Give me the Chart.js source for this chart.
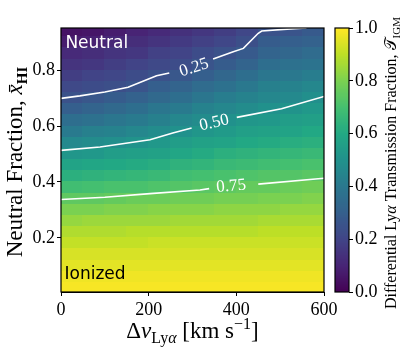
<!DOCTYPE html>
<html>
<head>
<meta charset="utf-8">
<script src="https://cdn.jsdelivr.net/npm/chart.js@4.4.0/dist/chart.umd.min.js"></script>
<style>
  html, body { margin: 0; padding: 0; background: #fff; }
  #wrap { position: relative; width: 407px; height: 355px; }
  #wrap canvas { position: absolute; left: 0; top: 0; }
</style>
</head>
<body>
<div id="wrap">
  <canvas id="heat" width="407" height="355"></canvas>
  <canvas id="cbar" width="407" height="355"></canvas>
</div>
<script>
// cell centres along the velocity offset axis [km/s]
const dvCenters = [25, 75, 125, 175, 225, 275, 325, 375, 425, 475, 525, 575];
// cell centres along the neutral fraction axis, top row first
const xhiCenters = [0.94, 0.90, 0.86, 0.82, 0.78, 0.74, 0.70, 0.66, 0.62, 0.58, 0.54, 0.50,
                    0.46, 0.42, 0.38, 0.34, 0.30, 0.26, 0.22, 0.18, 0.14, 0.10, 0.06, 0.02];
// transmission fraction, one row per xhiCenters entry
const transmission = [
  [0.05, 0.06, 0.08, 0.10, 0.12, 0.14, 0.16, 0.18, 0.21, 0.25, 0.26, 0.28],
  [0.08, 0.09, 0.11, 0.13, 0.15, 0.17, 0.19, 0.21, 0.24, 0.29, 0.30, 0.31],
  [0.12, 0.13, 0.15, 0.16, 0.19, 0.20, 0.23, 0.25, 0.28, 0.32, 0.33, 0.35],
  [0.15, 0.16, 0.18, 0.20, 0.22, 0.23, 0.26, 0.29, 0.32, 0.36, 0.37, 0.38],
  [0.18, 0.20, 0.21, 0.23, 0.25, 0.27, 0.30, 0.33, 0.36, 0.39, 0.40, 0.42],
  [0.22, 0.23, 0.24, 0.26, 0.30, 0.32, 0.35, 0.37, 0.40, 0.43, 0.44, 0.46],
  [0.25, 0.27, 0.29, 0.31, 0.34, 0.36, 0.39, 0.42, 0.44, 0.46, 0.47, 0.49],
  [0.30, 0.32, 0.34, 0.36, 0.39, 0.41, 0.44, 0.46, 0.48, 0.50, 0.51, 0.53],
  [0.36, 0.37, 0.39, 0.41, 0.43, 0.46, 0.48, 0.50, 0.52, 0.53, 0.55, 0.56],
  [0.41, 0.43, 0.44, 0.46, 0.48, 0.50, 0.52, 0.54, 0.56, 0.57, 0.58, 0.60],
  [0.47, 0.48, 0.49, 0.51, 0.53, 0.55, 0.57, 0.58, 0.60, 0.61, 0.62, 0.63],
  [0.52, 0.53, 0.55, 0.56, 0.57, 0.59, 0.61, 0.63, 0.64, 0.65, 0.66, 0.67],
  [0.58, 0.59, 0.60, 0.61, 0.62, 0.64, 0.65, 0.67, 0.68, 0.69, 0.70, 0.71],
  [0.63, 0.64, 0.65, 0.66, 0.67, 0.69, 0.70, 0.71, 0.72, 0.73, 0.73, 0.74],
  [0.69, 0.70, 0.71, 0.71, 0.72, 0.73, 0.74, 0.75, 0.76, 0.76, 0.77, 0.78],
  [0.75, 0.75, 0.76, 0.77, 0.77, 0.78, 0.78, 0.79, 0.79, 0.80, 0.80, 0.81],
  [0.80, 0.80, 0.81, 0.81, 0.82, 0.82, 0.82, 0.83, 0.83, 0.83, 0.84, 0.84],
  [0.84, 0.85, 0.85, 0.85, 0.85, 0.86, 0.86, 0.86, 0.86, 0.87, 0.87, 0.87],
  [0.88, 0.88, 0.88, 0.89, 0.89, 0.89, 0.89, 0.89, 0.89, 0.90, 0.90, 0.90],
  [0.91, 0.91, 0.91, 0.91, 0.92, 0.92, 0.92, 0.92, 0.92, 0.92, 0.92, 0.92],
  [0.94, 0.94, 0.94, 0.94, 0.94, 0.94, 0.94, 0.94, 0.94, 0.94, 0.94, 0.94],
  [0.96, 0.96, 0.96, 0.96, 0.96, 0.96, 0.96, 0.96, 0.96, 0.96, 0.96, 0.96],
  [0.98, 0.98, 0.98, 0.98, 0.98, 0.98, 0.98, 0.98, 0.98, 0.98, 0.98, 0.98],
  [0.99, 0.99, 0.99, 0.99, 0.99, 0.99, 0.99, 0.99, 0.99, 0.99, 0.99, 0.99]
];

// contour lines (null = gap left for the label)
const contour25 = [
  {x: 0, y: 0.699}, {x: 43, y: 0.708}, {x: 100, y: 0.722}, {x: 153, y: 0.739},
  {x: 218, y: 0.780}, {x: 247, y: 0.790}, {x: 300, y: null},
  {x: 347, y: 0.840}, {x: 393, y: 0.866}, {x: 416, y: 0.878}, {x: 450, y: 0.932},
  {x: 458, y: 0.940}, {x: 516, y: 0.947}, {x: 560, y: 0.951}
];
const contour50 = [
  {x: 0, y: 0.513}, {x: 89, y: 0.525}, {x: 203, y: 0.551}, {x: 255, y: 0.575},
  {x: 298, y: 0.593}, {x: 350, y: null},
  {x: 401, y: 0.631}, {x: 503, y: 0.662}, {x: 600, y: 0.706}
];
const contour75 = [
  {x: 0, y: 0.337}, {x: 100, y: 0.345}, {x: 203, y: 0.358}, {x: 317, y: 0.371},
  {x: 338, y: 0.376}, {x: 390, y: null},
  {x: 450, y: 0.392}, {x: 600, y: 0.413}
];
const contourLabels = ['0.25', '0.50', '0.75'];
const contourLabelAt = [{x: 303, y: 0.812}, {x: 349, y: 0.615}, {x: 388, y: 0.388}];

const xTicks = [0, 200, 400, 600];
const yTicks = [0.2, 0.4, 0.6, 0.8];
const cbarTicks = [0, 0.2, 0.4, 0.6, 0.8, 1.0];

const viridisStops = ['#440154', '#482475', '#414487', '#355f8d', '#2a788e', '#21918c',
                      '#22a884', '#44bf70', '#7ad151', '#bddf26', '#fde725'];

function hexRgb(h) {
  return [parseInt(h.slice(1, 3), 16), parseInt(h.slice(3, 5), 16), parseInt(h.slice(5, 7), 16)];
}
function viridis(v) {
  v = Math.max(0, Math.min(1, v));
  const p = v * (viridisStops.length - 1);
  const i = Math.min(Math.floor(p), viridisStops.length - 2);
  const f = p - i;
  const a = hexRgb(viridisStops[i]), b = hexRgb(viridisStops[i + 1]);
  const c = a.map((u, k) => Math.round(u + (b[k] - u) * f));
  return 'rgb(' + c.join(',') + ')';
}

const SERIF = '"Liberation Serif", "Times New Roman", serif';
const SANS = '"DejaVu Sans", sans-serif';

// draws a run of text pieces (for sub/superscripts), centred on x
function drawRuns(ctx, runs, x, y) {
  let w = 0;
  runs.forEach(r => { ctx.font = r.font; w += ctx.measureText(r.t).width; });
  let cx = x - w / 2;
  ctx.textAlign = 'left';
  ctx.textBaseline = 'alphabetic';
  runs.forEach(r => {
    ctx.font = r.font;
    ctx.fillText(r.t, cx, y + (r.dy || 0));
    cx += ctx.measureText(r.t).width;
  });
}

const heatmapPlugin = {
  id: 'heatmap',
  beforeDatasetsDraw(chart) {
    const {ctx, chartArea, scales: {x, y}} = chart;
    const dx = dvCenters[1] - dvCenters[0];
    const dy = Math.abs(xhiCenters[0] - xhiCenters[1]);
    ctx.save();
    ctx.beginPath();
    ctx.rect(chartArea.left, chartArea.top, chartArea.width, chartArea.height);
    ctx.clip();
    transmission.forEach((row, j) => {
      row.forEach((v, i) => {
        const x0 = Math.floor(x.getPixelForValue(dvCenters[i] - dx / 2));
        const x1 = Math.ceil(x.getPixelForValue(dvCenters[i] + dx / 2));
        const y0 = Math.floor(y.getPixelForValue(xhiCenters[j] + dy / 2));
        const y1 = Math.ceil(y.getPixelForValue(xhiCenters[j] - dy / 2));
        ctx.fillStyle = viridis(v);
        ctx.fillRect(x0, y0, x1 - x0, y1 - y0);
      });
    });
    ctx.restore();
  },
  afterDatasetsDraw(chart) {
    const {ctx, chartArea, scales: {x, y}} = chart;
    ctx.save();
    // contour labels, turned along the line
    const lines = [contour25, contour50, contour75];
    contourLabels.forEach((t, k) => {
      const pts = lines[k];
      const g = pts.findIndex(p => p.y === null);
      const a = pts[g - 1], b = pts[g + 1];
      const ang = Math.atan2(y.getPixelForValue(b.y) - y.getPixelForValue(a.y),
                             x.getPixelForValue(b.x) - x.getPixelForValue(a.x));
      ctx.save();
      ctx.translate(x.getPixelForValue(contourLabelAt[k].x), y.getPixelForValue(contourLabelAt[k].y));
      ctx.rotate(ang);
      ctx.fillStyle = '#fff';
      ctx.font = '17px ' + SERIF;
      ctx.textAlign = 'center';
      ctx.textBaseline = 'middle';
      ctx.fillText(t, 0, 1);
      ctx.restore();
    });
    // region annotations
    ctx.font = '17px ' + SANS;
    ctx.textAlign = 'left';
    ctx.textBaseline = 'middle';
    ctx.fillStyle = '#fff';
    ctx.fillText('Neutral', x.getPixelForValue(10), y.getPixelForValue(0.895));
    ctx.fillStyle = '#000';
    ctx.fillText('Ionized', x.getPixelForValue(8), y.getPixelForValue(0.067));
    // frame
    ctx.strokeStyle = '#000';
    ctx.lineWidth = 1.2;
    ctx.strokeRect(chartArea.left, chartArea.top, chartArea.width, chartArea.height);
    ctx.restore();
  },
  afterDraw(chart) {
    const {ctx, chartArea} = chart;
    ctx.save();
    ctx.fillStyle = '#000';
    // x axis title
    drawRuns(ctx, [
      {t: 'Δ', font: '23px ' + SERIF},
      {t: 'v', font: 'italic 23px ' + SERIF},
      {t: 'Ly', font: '16px ' + SERIF, dy: 5},
      {t: 'α', font: 'italic 16px ' + SERIF, dy: 5},
      {t: ' [km s', font: '23px ' + SERIF},
      {t: '−1', font: '16px ' + SERIF, dy: -9},
      {t: ']', font: '23px ' + SERIF}
    ], (chartArea.left + chartArea.right) / 2, 338);
    // y axis title
    ctx.translate(22, (chartArea.top + chartArea.bottom) / 2 + 2);
    ctx.rotate(-Math.PI / 2);
    drawRuns(ctx, [
      {t: 'Neutral Fraction, ', font: '23px ' + SERIF},
      {t: 'x\u0304', font: 'italic 23px ' + SERIF},
      {t: 'HI', font: 'bold 15px ' + SERIF, dy: 5}
    ], 0, 0);
    ctx.restore();
  }
};

const tickFont = {family: SERIF, size: 18};

new Chart(document.getElementById('heat'), {
  type: 'line',
  data: {
    datasets: [contour25, contour50, contour75].map(d => ({
      data: d,
      borderColor: '#ffffff',
      borderWidth: 1.6,
      pointRadius: 0,
      tension: 0,
      spanGaps: false
    }))
  },
  options: {
    responsive: false,
    animation: false,
    layout: {padding: {top: 28, right: 83, left: 0, bottom: 0}},
    plugins: {legend: {display: false}, tooltip: {enabled: false}},
    scales: {
      x: {
        type: 'linear', min: 0, max: 600,
        afterBuildTicks(s) { s.ticks = xTicks.map(v => ({value: v})); },
        ticks: {font: tickFont, color: '#000', padding: 3, maxRotation: 0, callback: v => String(v)},
        grid: {drawOnChartArea: false, tickLength: 4, tickColor: '#000', tickWidth: 1},
        border: {display: true, color: '#000'},
        afterFit(s) { s.height = 63; }
      },
      y: {
        type: 'linear', min: 0.006, max: 0.951,
        afterBuildTicks(s) { s.ticks = yTicks.map(v => ({value: v})); },
        ticks: {font: tickFont, color: '#000', padding: 2, callback: v => v.toFixed(1)},
        grid: {drawOnChartArea: false, tickLength: 4, tickColor: '#000', tickWidth: 1},
        border: {display: true, color: '#000'},
        afterFit(s) { s.width = 61; }
      }
    }
  },
  plugins: [heatmapPlugin]
});

const colorbarPlugin = {
  id: 'colorbar',
  beforeDatasetsDraw(chart) {
    const {ctx, chartArea, scales: {y}} = chart;
    ctx.save();
    const n = 256;
    for (let k = 0; k < n; k++) {
      const v0 = k / n, v1 = (k + 1) / n;
      const top = Math.floor(y.getPixelForValue(v1));
      const bot = Math.ceil(y.getPixelForValue(v0));
      ctx.fillStyle = viridis((v0 + v1) / 2);
      ctx.fillRect(chartArea.left, top, chartArea.width, bot - top);
    }
    ctx.strokeStyle = '#000';
    ctx.lineWidth = 1.2;
    ctx.strokeRect(chartArea.left, chartArea.top, chartArea.width, chartArea.height);
    ctx.restore();
  },
  afterDraw(chart) {
    const {ctx, chartArea} = chart;
    ctx.save();
    ctx.fillStyle = '#000';
    ctx.translate(396, (chartArea.top + chartArea.bottom) / 2 + 3);
    ctx.rotate(-Math.PI / 2);
    drawRuns(ctx, [
      {t: 'Differential Ly', font: '16px ' + SERIF},
      {t: 'α', font: 'italic 16px ' + SERIF},
      {t: ' Transmission Fraction, ', font: '16px ' + SERIF},
      {t: '𝒯', font: '16px ' + SERIF},
      {t: 'IGM', font: '11px ' + SERIF, dy: 4}
    ], 0, 0);
    ctx.restore();
  }
};

new Chart(document.getElementById('cbar'), {
  type: 'line',
  data: {datasets: []},
  options: {
    responsive: false,
    animation: false,
    layout: {padding: {top: 28, right: 0, left: 335, bottom: 0}},
    plugins: {legend: {display: false}, tooltip: {enabled: false}},
    scales: {
      x: {type: 'linear', min: 0, max: 1, display: false, afterFit(s) { s.height = 63; }},
      y: {
        type: 'linear', position: 'right', min: 0, max: 1,
        afterBuildTicks(s) { s.ticks = cbarTicks.map(v => ({value: v})); },
        ticks: {font: tickFont, color: '#000', padding: 2, callback: v => v.toFixed(1)},
        grid: {drawOnChartArea: false, tickLength: 4, tickColor: '#000', tickWidth: 1},
        border: {display: false},
        afterFit(s) { s.width = 58; }
      }
    }
  },
  plugins: [colorbarPlugin]
});
</script>
</body>
</html>
